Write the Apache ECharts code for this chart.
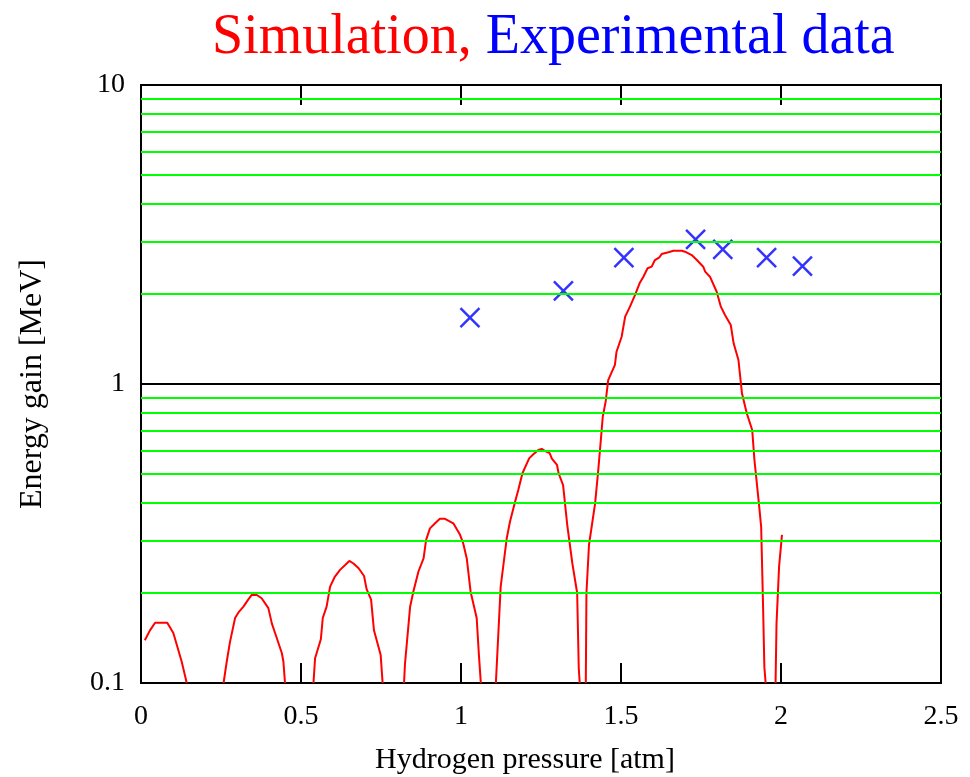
<!DOCTYPE html>
<html>
<head>
<meta charset="utf-8">
<script src="https://cdn.jsdelivr.net/npm/echarts@6/dist/echarts.min.js"></script>
<style>
  html, body { margin: 0; padding: 0; background: #fff; }
  #chart { width: 970px; height: 777px; }
</style>
</head>
<body>
<div id="chart"></div>
<script>
// simulation curve, null in simY = gap (curve below 0.1)
const simX = [
  0.012, 0.028, 0.044, 0.082, 0.101, 0.112, 0.127, 0.143,
  0.2,
  0.258, 0.268, 0.278, 0.294, 0.306, 0.320, 0.335, 0.346, 0.362, 0.377, 0.398, 0.409, 0.419, 0.440, 0.445, 0.450,
  0.5,
  0.539, 0.544, 0.562, 0.568, 0.580, 0.591, 0.606, 0.622, 0.638, 0.651, 0.664, 0.680, 0.697, 0.705, 0.719, 0.728, 0.749, 0.755,
  0.8,
  0.822, 0.825, 0.841, 0.851, 0.867, 0.883, 0.891, 0.903, 0.919, 0.934, 0.950, 0.976, 0.997, 1.007, 1.018, 1.030, 1.049, 1.056, 1.062,
  1.08,
  1.109, 1.124, 1.143, 1.153, 1.169, 1.179, 1.192, 1.213, 1.226, 1.242, 1.252, 1.263, 1.277, 1.284, 1.300, 1.305, 1.319, 1.332, 1.348, 1.363, 1.368, 1.371,
  1.38,
  1.390, 1.392, 1.400, 1.419, 1.429, 1.437, 1.443, 1.452, 1.460, 1.481, 1.486, 1.502, 1.513, 1.528, 1.544, 1.558, 1.570, 1.583, 1.596, 1.606,
  1.620, 1.627, 1.648, 1.664, 1.690, 1.700, 1.721, 1.737, 1.757, 1.763, 1.778, 1.799, 1.812, 1.825, 1.843, 1.852, 1.867, 1.878, 1.893, 1.910,
  1.917, 1.931, 1.938, 1.944, 1.948, 1.952,
  1.97,
  1.983, 1.986, 1.994, 2.003
];
const simY = [
  0.139, 0.150, 0.159, 0.159, 0.147, 0.134, 0.118, 0.100,
  null,
  0.100, 0.118, 0.137, 0.165, 0.173, 0.180, 0.190, 0.197, 0.197, 0.192, 0.178, 0.158, 0.147, 0.126, 0.118, 0.100,
  null,
  0.100, 0.121, 0.140, 0.165, 0.180, 0.210, 0.227, 0.239, 0.248, 0.256, 0.251, 0.242, 0.228, 0.206, 0.190, 0.150, 0.124, 0.100,
  null,
  0.100, 0.116, 0.180, 0.202, 0.236, 0.261, 0.301, 0.329, 0.342, 0.354, 0.354, 0.342, 0.313, 0.293, 0.261, 0.202, 0.165, 0.124, 0.100,
  null,
  0.100, 0.210, 0.305, 0.346, 0.404, 0.442, 0.503, 0.564, 0.582, 0.602, 0.607, 0.596, 0.587, 0.563, 0.536, 0.503, 0.459, 0.338, 0.251, 0.200, 0.112, 0.100,
  null,
  0.100, 0.200, 0.290, 0.398, 0.516, 0.650, 0.777, 0.873, 1.031, 1.158, 1.282, 1.439, 1.680, 1.814, 1.985, 2.172, 2.285, 2.438, 2.468, 2.598,
  2.653, 2.720, 2.757, 2.790, 2.790, 2.770, 2.700, 2.598, 2.468, 2.375, 2.285, 2.035, 1.814, 1.701, 1.575, 1.368, 1.203, 0.931, 0.798, 0.702,
  0.557, 0.398, 0.333, 0.180, 0.113, 0.100,
  null,
  0.100, 0.158, 0.245, 0.313
];

// experimental points
const expX = [1.028, 1.320, 1.509, 1.733, 1.818, 1.955, 2.067];
const expY = [1.667, 2.05, 2.645, 3.048, 2.82, 2.645, 2.48];

// green grid lines (2..9 of each decade)
const minorLevels = [0.2, 0.3, 0.4, 0.5, 0.6, 0.7, 0.8, 0.9, 2, 3, 4, 5, 6, 7, 8, 9];

const serif = "'Liberation Serif', 'DejaVu Serif', serif";

const chart = echarts.init(document.getElementById('chart'));
chart.setOption({
  animation: false,
  backgroundColor: '#fff',
  title: {
    left: 212, top: 10, padding: 0,
    text: '{a|Simulation,} {b|Experimental data}',
    textStyle: {
      fontSize: 56, fontWeight: 'normal', fontFamily: serif,
      rich: {
        a: { color: '#ff0000', fontSize: 56, fontWeight: 'normal', fontFamily: serif },
        b: { color: '#0000ff', fontSize: 56, fontWeight: 'normal', fontFamily: serif }
      }
    }
  },
  grid: {
    left: 141, right: 29, top: 85, bottom: 94,
    outerBoundsMode: 'none',
    show: true, borderColor: '#000', borderWidth: 2, backgroundColor: 'transparent'
  },
  xAxis: [{
    type: 'value', min: 0, max: 2.5, interval: 0.5,
    name: 'Hydrogen pressure [atm]', nameLocation: 'middle', nameGap: 62,
    nameTextStyle: { fontSize: 30, fontFamily: serif, color: '#000', padding: [0, 32, 0, 0] },
    axisLine: { show: false },
    axisTick: { show: true, inside: true, length: 20, lineStyle: { color: '#000', width: 2 } },
    axisLabel: { fontSize: 28, fontFamily: serif, color: '#000', margin: 20 },
    splitLine: { show: false }
  }, {
    type: 'value', min: 0, max: 2.5, interval: 0.5, position: 'top',
    axisLine: { show: false },
    axisTick: { show: true, inside: true, length: 20, lineStyle: { color: '#000', width: 2 } },
    axisLabel: { show: false },
    splitLine: { show: false }
  }],
  yAxis: {
    type: 'log', logBase: 10, min: 0.1, max: 10,
    name: 'Energy gain [MeV]', nameLocation: 'middle', nameGap: 92, nameRotate: 90,
    nameTextStyle: { fontSize: 32, fontFamily: serif, color: '#000' },
    axisLine: { show: false },
    axisTick: { show: false },
    axisLabel: { fontSize: 28, fontFamily: serif, color: '#000', margin: 16 },
    splitLine: { show: true, lineStyle: { color: '#000', width: 2 } }
  },
  series: [{
    // holds the green lines only
    type: 'line', data: [], z: 1, silent: true,
    markLine: {
      silent: true, symbol: 'none', animation: false,
      label: { show: false },
      lineStyle: { color: '#00ff00', width: 2, type: 'solid' },
      emphasis: { disabled: true },
      data: minorLevels.map(v => ({ yAxis: v }))
    }
  }, {
    name: 'Simulation',
    type: 'line', z: 3,
    data: simX.map((x, i) => [x, simY[i]]),
    showSymbol: false, connectNulls: false,
    lineStyle: { color: '#ff0000', width: 2 },
    emphasis: { disabled: true }
  }, {
    name: 'Experimental data',
    type: 'scatter', z: 4,
    data: expX.map((x, i) => [x, expY[i]]),
    symbol: 'path://M0,0L10,10M10,0L0,10',
    symbolSize: 19,
    itemStyle: { color: 'rgba(0,0,0,0)', borderColor: '#0000ff', borderWidth: 2.5 },
    emphasis: { disabled: true }
  }]
});
</script>
</body>
</html>
